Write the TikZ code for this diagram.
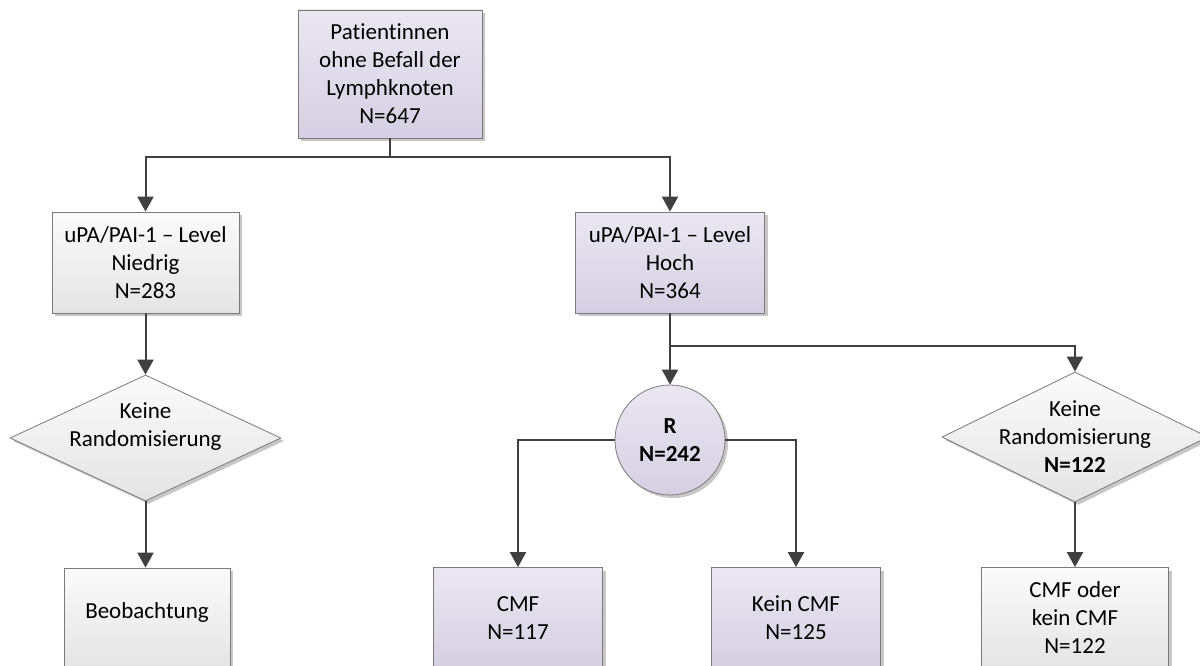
\documentclass[tikz,border=0pt]{standalone}
\usepackage{fontspec}
\setmainfont{Carlito}[Ligatures={NoCommon}]
\usetikzlibrary{shapes.geometric,shadows,arrows.meta}
\definecolor{lnc}{HTML}{404040}
\definecolor{bdc}{HTML}{7A7A7A}
\definecolor{ptop}{HTML}{EAE7F1}
\definecolor{pbot}{HTML}{D6CFE3}
\definecolor{gtop}{HTML}{FBFBFB}
\definecolor{gbot}{HTML}{E4E4E4}
\tikzset{
  base/.style={draw=bdc, line width=0.8pt, align=center, font=\fontsize{23}{28}\selectfont,
    drop shadow={shadow xshift=3pt, shadow yshift=-3pt, opacity=0.22, fill=black}},
  pbox/.style={base, rectangle, top color=ptop, bottom color=pbot},
  gbox/.style={base, rectangle, top color=gtop, bottom color=gbot},
  gdia/.style={base, diamond, inner sep=0pt, top color=gtop, bottom color=gbot},
  pcirc/.style={base, circle, inner sep=0pt, top color=ptop, bottom color=pbot, minimum size=110pt},
  txt/.style={align=center, font=\fontsize{23}{28}\selectfont, inner sep=0pt},
  arr/.style={draw=lnc, line width=2pt, -{Triangle[width=16pt,length=15pt]}},
}
\begin{document}
\begin{tikzpicture}[x=1pt,y=-1pt]
\clip (0,0) rectangle (1200,666);
\fill[white] (0,0) rectangle (1200,666);
\node[pbox, minimum width=184pt, minimum height=128pt] (top) at (390,74)
  {Patientinnen\\ohne Befall der\\Lymphknoten\\N=647};
\node[gbox, minimum width=187pt, minimum height=101pt] (low) at (145.5,262.5)
  {uPA/PAI-1 – Level\\Niedrig\\N=283};
\node[pbox, minimum width=189pt, minimum height=101pt] (high) at (670,262.5)
  {uPA/PAI-1 – Level\\Hoch\\N=364};
\node[gdia, minimum width=271pt, minimum height=126pt] (dleft) at (145.5,438) {};
\node[txt] (dlefttxt) at (145.5,427) {Keine\\Randomisierung};
\node[pcirc] (R) at (670,440) {\bfseries R\\\bfseries N=242};
\node[gdia, minimum width=266pt, minimum height=130pt] (dright) at (1075,437) {};
\node[txt] (drighttxt) at (1075,437) {Keine\\Randomisierung\\\bfseries N=122};
\node[gbox, minimum width=166pt, minimum height=101pt] (beob) at (147,618.5) {};
\node[txt] (beobtxt) at (147,612) {Beobachtung};
\node[pbox, minimum width=169pt, minimum height=101pt] (cmf) at (518,618) {CMF\\N=117};
\node[pbox, minimum width=169pt, minimum height=101pt] (kein) at (796,618) {Kein CMF\\N=125};
\node[gbox, minimum width=187pt, minimum height=101pt] (oder) at (1075,618) {CMF oder\\kein CMF\\N=122};
\draw[arr] (top.south) -- ++(0,19) -| (low.north);
\draw[arr] (top.south) -- ++(0,19) -| (high.north);
\draw[arr] (low.south) -- (dleft.north);
\draw[arr] (dleft.south) -- (beob.north -| dleft.south);
\draw[arr] (high.south) -- (R.north);
\draw[arr] (high.south) -- ++(0,33) -| (dright.north);
\draw[arr] (R.west) -| (cmf.north);
\draw[arr] (R.east) -| (kein.north);
\draw[arr] (dright.south) -- (oder.north);
\end{tikzpicture}
\end{document}
